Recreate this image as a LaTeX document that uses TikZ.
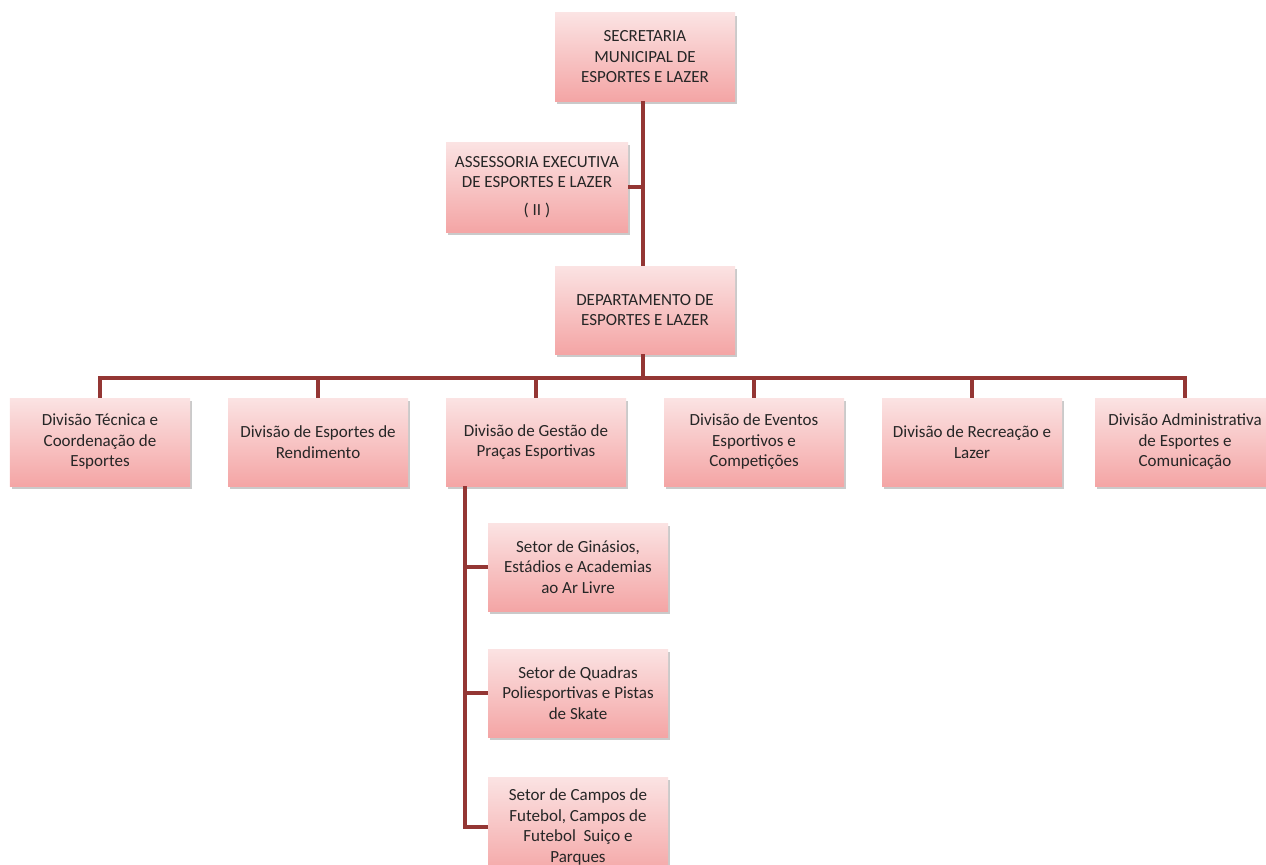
\documentclass[tikz,border=0pt]{standalone}
\usepackage{fontspec}
\setmainfont{Carlito}
\usetikzlibrary{shadows}
\definecolor{lineRed}{HTML}{943634}
\definecolor{boxTop}{HTML}{FBE3E3}
\definecolor{boxBot}{HTML}{F4A5A5}
\tikzset{
  orgbox/.style={rectangle, top color=boxTop, bottom color=boxBot, draw=none,
    minimum width=180bp, minimum height=88bp, align=center, text=black!85,
    font=\fontsize{17bp}{20.5bp}\selectfont, inner xsep=2bp,
    drop shadow={shadow xshift=2bp, shadow yshift=-3bp, opacity=0.35, fill=black!60}},
  link/.style={draw=lineRed, line width=3.5bp}
}
\begin{document}
\begin{tikzpicture}[x=1bp,y=-1bp]
\useasboundingbox (0,0) rectangle (1266,865);
% nodes
\node[orgbox] (sec) at (645,57) {SECRETARIA\\MUNICIPAL DE\\ESPORTES E LAZER};
\node[orgbox, minimum width=182bp, minimum height=90bp] (ass) at (537,187) {ASSESSORIA EXECUTIVA\\DE ESPORTES E LAZER\\[7bp]( II )};
\node[orgbox] (dep) at (645,310) {DEPARTAMENTO DE\\ESPORTES E LAZER};
\node[orgbox] (d1) at (100,442) {Divisão Técnica e\\Coordenação de\\Esportes};
\node[orgbox] (d2) at (318,442) {Divisão de Esportes de\\Rendimento};
\node[orgbox] (d3) at (536,442) {Divisão de Gestão de\\Praças Esportivas};
\node[orgbox] (d4) at (754,442) {Divisão de Eventos\\Esportivos e\\Competições};
\node[orgbox] (d5) at (972,442) {Divisão de Recreação e\\Lazer};
\node[orgbox] (d6) at (1185,442) {Divisão Administrativa\\de Esportes e\\Comunicação};
\node[orgbox] (s1) at (578,567) {Setor de Ginásios,\\Estádios e Academias\\ao Ar Livre};
\node[orgbox] (s2) at (578,693) {Setor de Quadras\\Poliesportivas e Pistas\\de Skate};
\node[orgbox, minimum height=100bp] (s3) at (578,827) {Setor de Campos de\\Futebol, Campos de\\Futebol\ \ Suiço e\\Parques};
% connectors
\coordinate (ja) at (643,187);
\coordinate (bus) at (643,378);
\draw[link] (sec.south -| ja) -- (dep.north -| ja);
\draw[link] (ass.east) -- (ja);
\draw[link] (dep.south -| bus) -- (bus);
\draw[link] (d1.north) |- (bus) -| (d6.north);
\foreach \d in {d2,d3,d4,d5} {\draw[link] (\d.north) -- (\d.north |- bus);}
\coordinate (trunk) at (465,0);
\draw[link] (d3.south -| trunk) |- (s3.west);
\draw[link] (s1.west) -- (s1.west -| trunk);
\draw[link] (s2.west) -- (s2.west -| trunk);
\end{tikzpicture}
\end{document}
